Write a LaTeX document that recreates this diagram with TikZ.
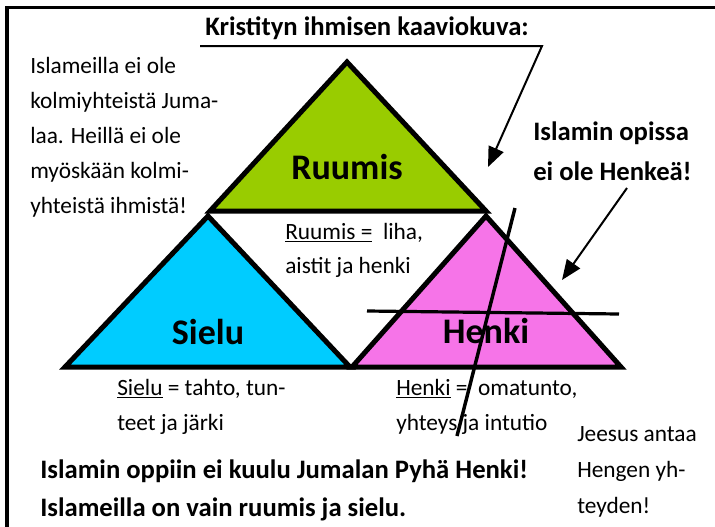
\documentclass[tikz,border=0pt]{standalone}
\usepackage{fontspec}
\setmainfont{Carlito}
\usetikzlibrary{arrows.meta}
\definecolor{ruumisgreen}{RGB}{153,204,0}
\definecolor{sielublue}{RGB}{0,204,255}
\definecolor{henkipink}{RGB}{246,116,232}
\tikzset{
  tri/.style={draw=black, line width=3.75pt, line join=miter},
  reg/.style={anchor=base west, inner sep=0pt, font=\fontsize{17.5}{21}\selectfont},
  boldtxt/.style={anchor=base west, inner sep=0pt, font=\fontsize{20}{24}\selectfont\bfseries},
  bigtxt/.style={anchor=base, inner sep=0pt, font=\fontsize{27}{32}\selectfont\bfseries},
  arr/.style={line width=1.5pt, -{Triangle[length=15pt,width=12pt]}},
  crossline/.style={line width=2.4pt, line cap=butt}
}
\begin{document}
\begin{tikzpicture}[x=0.75pt,y=-0.75pt]
\useasboundingbox (0,0) rectangle (715,526);
\fill[white] (0,0) rectangle (715,526);
% frame
\draw[line width=2.4pt] (7,530) -- (7,7.5) -- (720,7.5);
% triangles
\filldraw[tri, fill=ruumisgreen] (347,62) -- (486,211) -- (210,211) -- cycle;
\filldraw[tri, fill=sielublue] (208,216) -- (350,367) -- (65,367) -- cycle;
\filldraw[tri, fill=henkipink] (486,216) -- (621,367) -- (352,367) -- cycle;
% big labels
\node[bigtxt] (ruumis) at (347,179.5) {Ruumis};
\node[bigtxt] (sielu) at (208,344) {Sielu};
\node[bigtxt] (henki) at (486,343) {Henki};
% title
\node[boldtxt] (title) at (205,35) {Kristityn ihmisen kaaviokuva:};
\coordinate (ulstart) at (200,46);
\coordinate (ulend) at (542,46);
\coordinate (tip1) at (488,167);
\draw[arr] (ulstart) -- (ulend) -- (tip1);
% left text
\node[reg] (l1) at (30,73.5) {Islameilla ei ole};
\node[reg] (l2) at (30,108.5) {kolmiyhteistä Juma-};
\node[reg] (l3) at (30,143.5) {laa. Heillä ei ole};
\node[reg] (l4) at (30,178.5) {myöskään kolmi-};
\node[reg] (l5) at (30,213.5) {yhteistä ihmistä!};
% right bold text
\node[boldtxt] (r1) at (533,140) {Islamin opissa};
\node[boldtxt] (r2) at (533,180) {ei ole Henkeä!};
\coordinate (a2start) at (627,188);
\coordinate (tip2) at (562,280);
\draw[arr] (a2start) -- (tip2);
% definitions
\node[reg] (rd1) at (285,239) {\underline{Ruumis =}\ \ liha,};
\node[reg] (rd2) at (285,273) {aistit ja henki};
\node[reg] (sd1) at (117,395) {\underline{Sielu} = tahto, tun-};
\node[reg] (sd2) at (117,430.5) {teet ja järki};
\node[reg] (hd1) at (396,395) {\underline{Henki} =\ \ omatunto,};
\node[reg] (hd2) at (396,430.5) {yhteys ja intutio};
% bottom bold
\node[boldtxt] (b1) at (40,478) {Islamin oppiin ei kuulu Jumalan Pyhä Henki!};
\node[boldtxt] (b2) at (40,516.5) {Islameilla on vain ruumis ja sielu.};
% Jeesus
\node[reg] (j1) at (577,441.5) {Jeesus antaa};
\node[reg] (j2) at (577,477.5) {Hengen yh-};
\node[reg] (j3) at (577,513) {teyden!};
% crossing lines
\coordinate (hl1) at (367,311);
\coordinate (hl2) at (619,314);
\draw[crossline] (hl1) -- (hl2);
\coordinate (sl1) at (515,208);
\coordinate (sl2) at (457,436);
\draw[crossline, line width=2.6pt] (sl1) -- (sl2);
\end{tikzpicture}
\end{document}
